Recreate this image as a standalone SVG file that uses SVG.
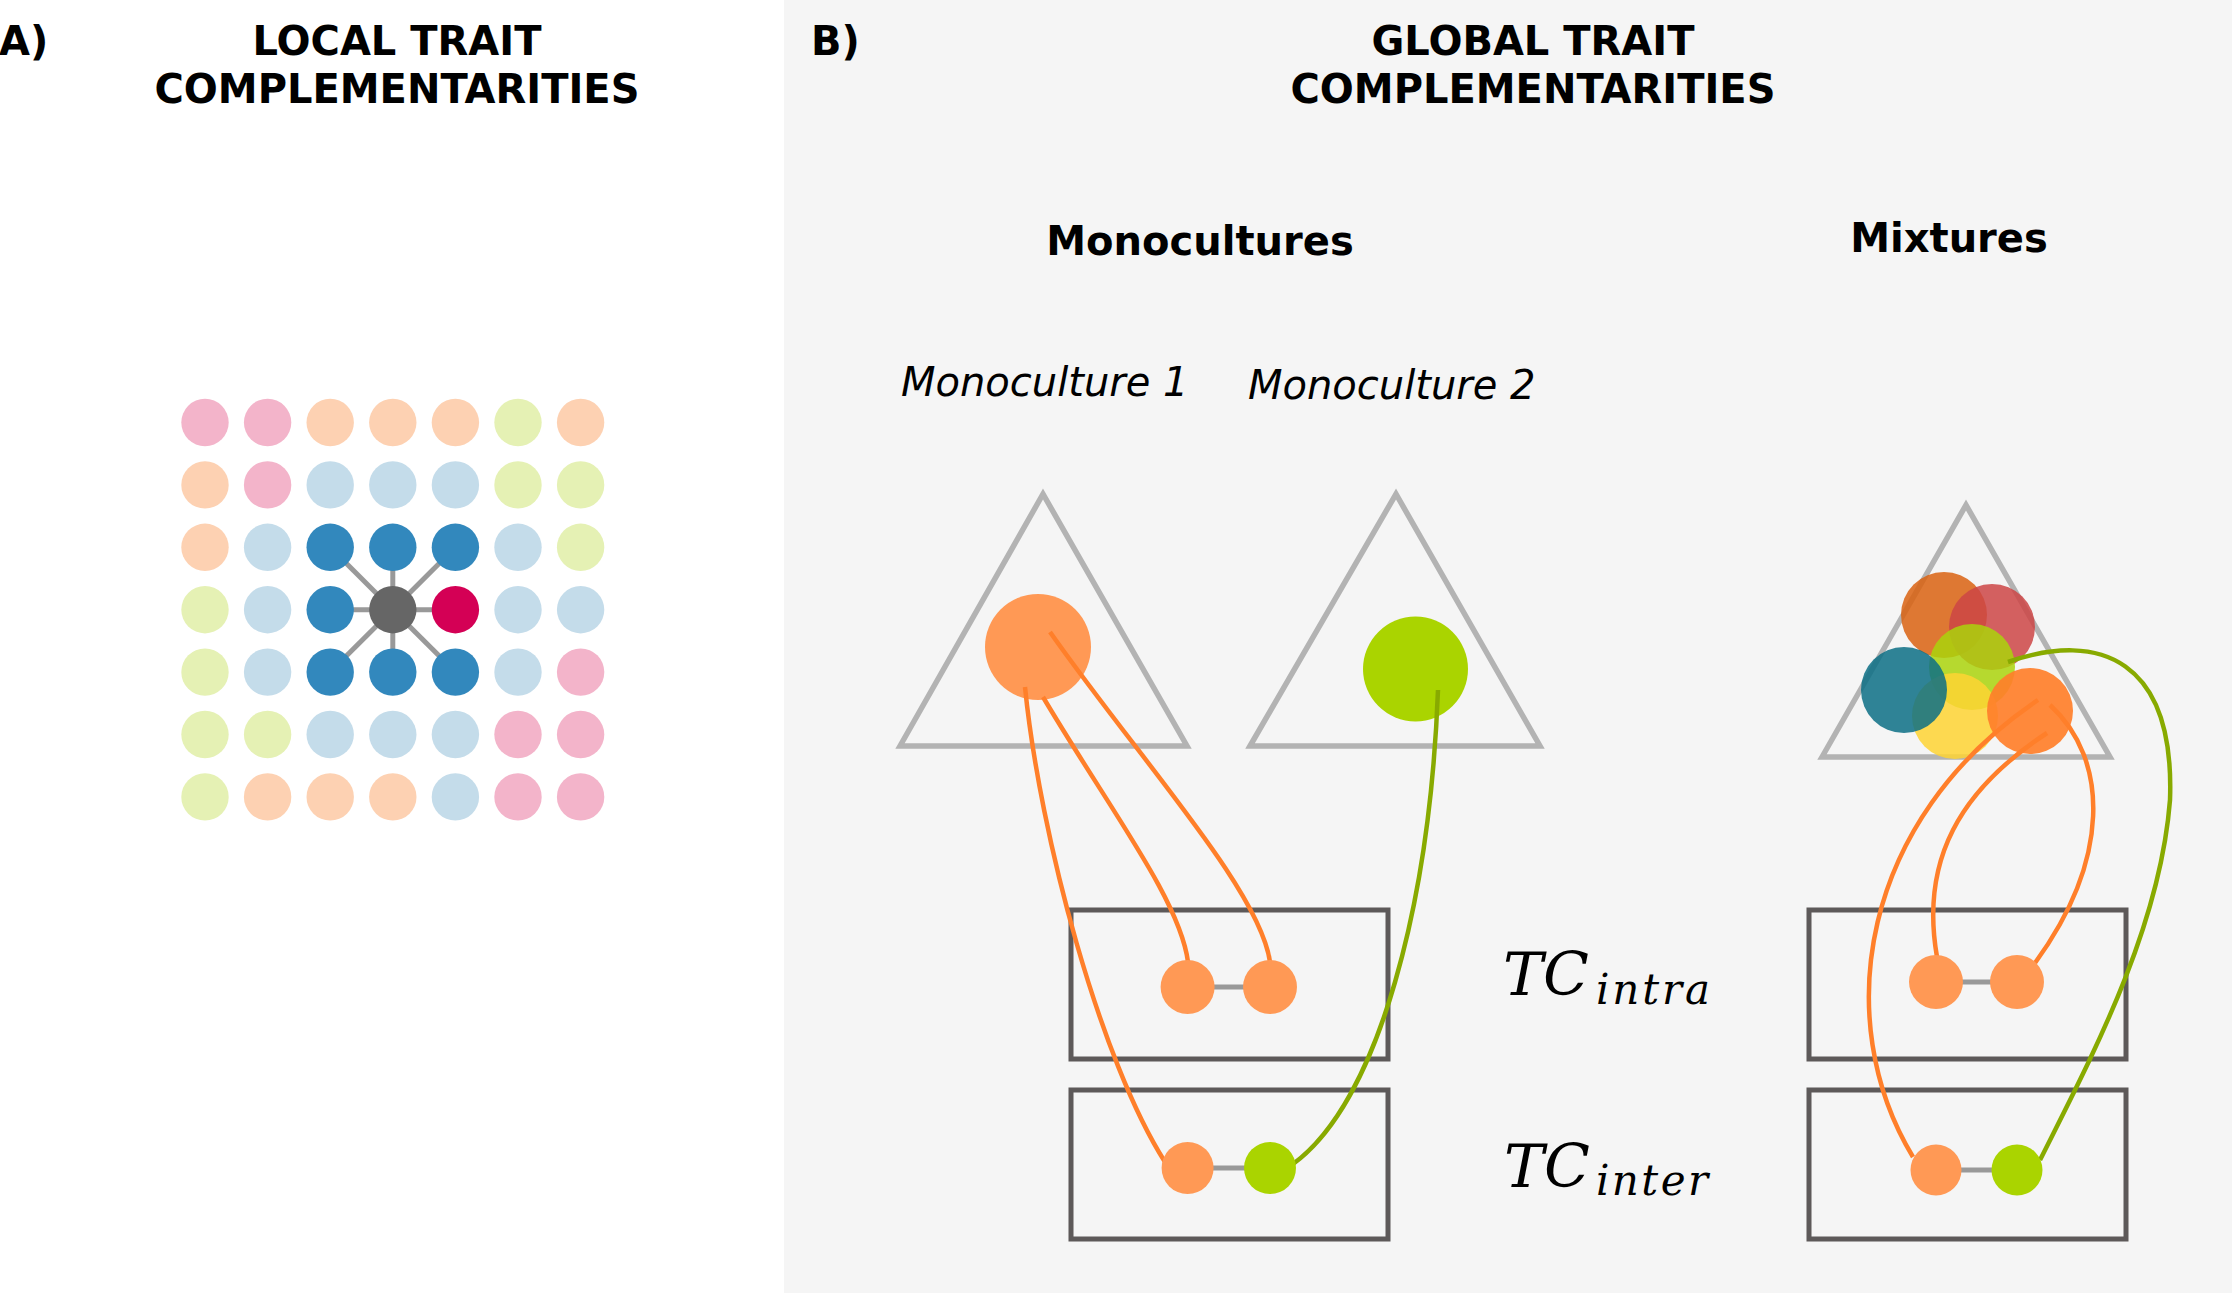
<svg xmlns="http://www.w3.org/2000/svg" width="2232" height="1293" viewBox="0 0 2232 1293">
<style>
.title{font-family:"DejaVu Sans","Liberation Sans",sans-serif;font-weight:bold;font-size:40px;fill:#000}
.sub{font-family:"DejaVu Sans","Liberation Sans",sans-serif;font-weight:bold;font-size:40px;fill:#000}
.mono{font-family:"DejaVu Sans","Liberation Sans",sans-serif;font-style:italic;font-size:40px;fill:#000}
.tc{font-family:"DejaVu Serif","Liberation Serif",serif;font-style:italic;fill:#000}
.pk{fill:#f3b4ca}.pe{fill:#fdd1b2}.gr{fill:#e5f1b4}.lb{fill:#c4dcea}.db{fill:#3288bd}
.cr{fill:#d40055}.ce{fill:#666666}
.spoke{stroke:#999999;stroke-width:5}
.tri{fill:none;stroke:#b3b3b3;stroke-width:5.5}
.box{fill:none;stroke:#5d5959;stroke-width:5}
.link{stroke:#999999;stroke-width:5}
.o{fill:#ff9955}.g{fill:#aad400}
.co{fill:none;stroke:#ff7f2a;stroke-width:4.5}
.cg{fill:none;stroke:#88aa00;stroke-width:4.5}
.mx{opacity:0.85}
</style>
<rect x="0" y="0" width="784" height="1293" fill="#ffffff"/>
<rect x="784" y="0" width="1448" height="1293" fill="#f5f5f5"/>

<g id="titles">
<text class="title" x="-1" y="55">A)</text>
<text class="title" x="397" y="55" text-anchor="middle">LOCAL TRAIT</text>
<text class="title" x="397" y="103" text-anchor="middle">COMPLEMENTARITIES</text>
<text class="title" x="811" y="55">B)</text>
<text class="title" x="1533" y="55" text-anchor="middle">GLOBAL TRAIT</text>
<text class="title" x="1533" y="103" text-anchor="middle">COMPLEMENTARITIES</text>
<text class="sub" x="1200" y="255" text-anchor="middle">Monocultures</text>
<text class="sub" x="1949" y="252" text-anchor="middle">Mixtures</text>
<text class="mono" x="901" y="396">Monoculture 1</text>
<text class="mono" x="1248" y="399">Monoculture 2</text>
<text class="tc" x="1503" y="995"><tspan font-size="60">TC</tspan><tspan x="1596" dy="9" font-size="42" textLength="114" lengthAdjust="spacing">intra</tspan></text>
<text class="tc" x="1504" y="1187"><tspan font-size="60">TC</tspan><tspan x="1596" dy="8" font-size="42" textLength="112" lengthAdjust="spacing">inter</tspan></text>
</g>

<g id="local-grid">
<g id="spokes">
<line class="spoke" x1="392.8" y1="609.7" x2="330.2" y2="547.3"/>
<line class="spoke" x1="392.8" y1="609.7" x2="392.8" y2="547.3"/>
<line class="spoke" x1="392.8" y1="609.7" x2="455.4" y2="547.3"/>
<line class="spoke" x1="392.8" y1="609.7" x2="330.2" y2="609.7"/>
<line class="spoke" x1="392.8" y1="609.7" x2="455.4" y2="609.7"/>
<line class="spoke" x1="392.8" y1="609.7" x2="330.2" y2="672.1"/>
<line class="spoke" x1="392.8" y1="609.7" x2="392.8" y2="672.1"/>
<line class="spoke" x1="392.8" y1="609.7" x2="455.4" y2="672.1"/>
</g>
<g id="grid-dots">
<circle class="pk" cx="205" cy="422.5" r="23.7"/><circle class="pk" cx="267.6" cy="422.5" r="23.7"/><circle class="pe" cx="330.2" cy="422.5" r="23.7"/><circle class="pe" cx="392.8" cy="422.5" r="23.7"/><circle class="pe" cx="455.4" cy="422.5" r="23.7"/><circle class="gr" cx="518" cy="422.5" r="23.7"/><circle class="pe" cx="580.6" cy="422.5" r="23.7"/>
<circle class="pe" cx="205" cy="484.9" r="23.7"/><circle class="pk" cx="267.6" cy="484.9" r="23.7"/><circle class="lb" cx="330.2" cy="484.9" r="23.7"/><circle class="lb" cx="392.8" cy="484.9" r="23.7"/><circle class="lb" cx="455.4" cy="484.9" r="23.7"/><circle class="gr" cx="518" cy="484.9" r="23.7"/><circle class="gr" cx="580.6" cy="484.9" r="23.7"/>
<circle class="pe" cx="205" cy="547.3" r="23.7"/><circle class="lb" cx="267.6" cy="547.3" r="23.7"/><circle class="db" cx="330.2" cy="547.3" r="23.7"/><circle class="db" cx="392.8" cy="547.3" r="23.7"/><circle class="db" cx="455.4" cy="547.3" r="23.7"/><circle class="lb" cx="518" cy="547.3" r="23.7"/><circle class="gr" cx="580.6" cy="547.3" r="23.7"/>
<circle class="gr" cx="205" cy="609.7" r="23.7"/><circle class="lb" cx="267.6" cy="609.7" r="23.7"/><circle class="db" cx="330.2" cy="609.7" r="23.7"/><circle class="ce" cx="392.8" cy="609.7" r="23.7"/><circle class="cr" cx="455.4" cy="609.7" r="23.7"/><circle class="lb" cx="518" cy="609.7" r="23.7"/><circle class="lb" cx="580.6" cy="609.7" r="23.7"/>
<circle class="gr" cx="205" cy="672.1" r="23.7"/><circle class="lb" cx="267.6" cy="672.1" r="23.7"/><circle class="db" cx="330.2" cy="672.1" r="23.7"/><circle class="db" cx="392.8" cy="672.1" r="23.7"/><circle class="db" cx="455.4" cy="672.1" r="23.7"/><circle class="lb" cx="518" cy="672.1" r="23.7"/><circle class="pk" cx="580.6" cy="672.1" r="23.7"/>
<circle class="gr" cx="205" cy="734.5" r="23.7"/><circle class="gr" cx="267.6" cy="734.5" r="23.7"/><circle class="lb" cx="330.2" cy="734.5" r="23.7"/><circle class="lb" cx="392.8" cy="734.5" r="23.7"/><circle class="lb" cx="455.4" cy="734.5" r="23.7"/><circle class="pk" cx="518" cy="734.5" r="23.7"/><circle class="pk" cx="580.6" cy="734.5" r="23.7"/>
<circle class="gr" cx="205" cy="796.9" r="23.7"/><circle class="pe" cx="267.6" cy="796.9" r="23.7"/><circle class="pe" cx="330.2" cy="796.9" r="23.7"/><circle class="pe" cx="392.8" cy="796.9" r="23.7"/><circle class="lb" cx="455.4" cy="796.9" r="23.7"/><circle class="pk" cx="518" cy="796.9" r="23.7"/><circle class="pk" cx="580.6" cy="796.9" r="23.7"/>
</g>
</g>

<g id="monoculture-1">
<polygon class="tri" points="900,746 1043,494 1187,746"/>
<circle class="o" cx="1038" cy="647" r="53"/>
</g>
<g id="monoculture-2">
<polygon class="tri" points="1250,746 1396,494 1540,746"/>
<circle class="g" cx="1415.5" cy="669" r="52.5"/>
</g>
<g id="mixture">
<polygon class="tri" points="1822,757 1966,505 2110,757"/>
<circle class="mx" cx="1944" cy="615" r="43" fill="#d96111"/>
<circle class="mx" cx="1992" cy="627" r="43" fill="#cd4545"/>
<circle class="mx" cx="1972" cy="667" r="43" fill="#aad40c"/>
<circle class="mx" cx="1955" cy="716" r="43" fill="#fed432"/>
<circle cx="2030" cy="711" r="43" fill="#ff7f2a" opacity="0.92"/>
<circle class="mx" cx="1904" cy="690" r="43" fill="#0c6e85"/>
</g>

<g id="box-mono-intra"><rect class="box" x="1071" y="910" width="317" height="149"/></g>
<g id="box-mono-inter"><rect class="box" x="1071" y="1090" width="317" height="149"/></g>
<g id="box-mix-intra"><rect class="box" x="1809" y="910" width="317" height="149"/></g>
<g id="box-mix-inter"><rect class="box" x="1809" y="1090" width="317" height="149"/></g>

<g id="connectors">
<line class="link" x1="1188" y1="987" x2="1270" y2="987"/>
<line class="link" x1="1188" y1="1168" x2="1270" y2="1168"/>
<line class="link" x1="1936" y1="982" x2="2017" y2="982"/>
<line class="link" x1="1936" y1="1170" x2="2017" y2="1170"/>
<path class="co" d="M1025,687 C1040,837 1101,1062 1165,1162"/>
<path class="co" d="M1043,697 C1110,810 1180,900 1188,962"/>
<path class="co" d="M1050,632 C1140,760 1260,890 1270,962"/>
<path class="cg" d="M1438,690 C1430,900 1380,1100 1293,1164"/>
<path class="co" d="M2038,700 C1860,820 1830,1020 1913,1157"/>
<path class="co" d="M2047,733 C1960,790 1920,860 1937,957"/>
<path class="co" d="M2050,705 C2110,760 2110,860 2035,963"/>
<path class="cg" d="M2008,662 C2100,630 2175,660 2170,800 C2160,930 2090,1060 2040,1160"/>
</g>

<g id="dot-mono-intra-1"><circle class="o" cx="1187.6" cy="987" r="27"/></g>
<g id="dot-mono-intra-2"><circle class="o" cx="1270" cy="987" r="27"/></g>
<g id="dot-mono-inter-1"><circle class="o" cx="1187.6" cy="1168" r="26"/></g>
<g id="dot-mono-inter-2"><circle class="g" cx="1270" cy="1168" r="26"/></g>
<g id="dot-mix-intra-1"><circle class="o" cx="1936" cy="982" r="27"/></g>
<g id="dot-mix-intra-2"><circle class="o" cx="2017" cy="982" r="27"/></g>
<g id="dot-mix-inter-1"><circle class="o" cx="1936" cy="1170" r="25.5"/></g>
<g id="dot-mix-inter-2"><circle class="g" cx="2017" cy="1170" r="25.5"/></g>
</svg>
